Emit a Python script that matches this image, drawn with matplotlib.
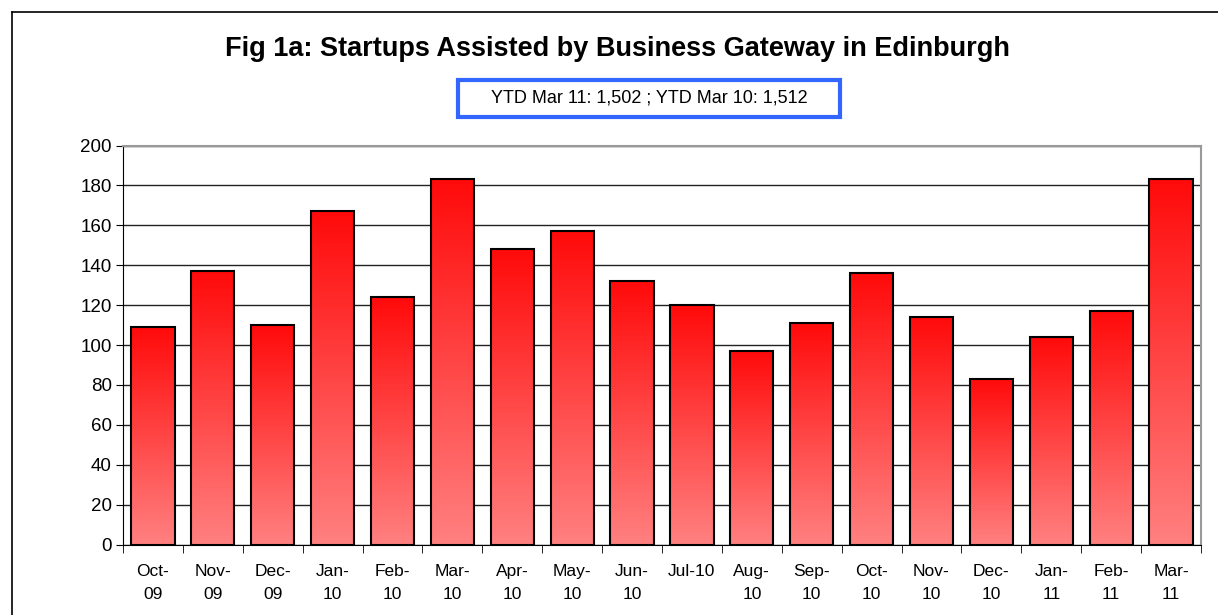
import matplotlib.pyplot as plt
import matplotlib.colors as mcolors
import numpy as np

plt.rcParams['font.family'] = ['Liberation Sans', 'DejaVu Sans']

months = ['Oct-\n09', 'Nov-\n09', 'Dec-\n09', 'Jan-\n10', 'Feb-\n10', 'Mar-\n10',
          'Apr-\n10', 'May-\n10', 'Jun-\n10', 'Jul-10\n', 'Aug-\n10', 'Sep-\n10',
          'Oct-\n10', 'Nov-\n10', 'Dec-\n10', 'Jan-\n11', 'Feb-\n11', 'Mar-\n11']
startups = [109, 137, 110, 167, 124, 183, 148, 157, 132, 120, 97, 111,
            136, 114, 83, 104, 117, 183]

title = 'Fig 1a: Startups Assisted by Business Gateway in Edinburgh'
note = 'YTD Mar 11: 1,502 ; YTD Mar 10: 1,512'

fig = plt.figure(figsize=(12.18, 6.15), dpi=100)
ax = fig.add_axes([123/1218, 1-544.5/615, (1201-123)/1218, (544.5-145.5)/615])

# vertical gradient red -> pink for each bar
cmap = mcolors.LinearSegmentedColormap.from_list('grad', ['#ff0a0a', '#ff8080'])
grad = np.linspace(0, 1, 256).reshape(-1, 1)

x = np.arange(len(startups))
bars = ax.bar(x, startups, width=0.72, facecolor='none', edgecolor='black',
              linewidth=1.5, zorder=3)
for b in bars:
    x0, w, h = b.get_x(), b.get_width(), b.get_height()
    im = ax.imshow(grad, cmap=cmap, aspect='auto', extent=[x0, x0 + w, 0, h],
                   origin='upper', zorder=2)
    im.set_clip_path(b)

ax.set_xlim(-0.5, len(startups) - 0.5)
ax.set_ylim(0, 200)
ax.set_yticks(range(0, 201, 20))
ax.yaxis.grid(True, color='#222222', linewidth=1)
ax.set_axisbelow(True)

ax.set_xticks(x)
ax.set_xticklabels(months, fontsize=12.5, linespacing=1.7)
ax.set_xticks(np.arange(-0.5, len(startups), 1), minor=True)
ax.tick_params(axis='x', which='major', length=0, pad=14)
ax.tick_params(axis='x', which='minor', length=6, color='black')
ax.tick_params(axis='y', length=5, labelsize=13.5, pad=3)

ax.spines['left'].set_color('black')
ax.spines['bottom'].set_color('black')
ax.spines['top'].set_color('#999999')
ax.spines['right'].set_color('#999999')
ax.spines['top'].set_linewidth(1.5)
ax.spines['right'].set_linewidth(1.5)

fig.text(617/1218, 1 - 49/615, title, ha='center', va='center', fontsize=19.5,
         fontweight='bold')

# note box
fig.add_artist(plt.Rectangle((458/1218, 1 - 117/615), 382/1218, 37/615,
                             transform=fig.transFigure, facecolor='white',
                             edgecolor='#3366ff', linewidth=3))
fig.text(649/1218, 1 - 98/615, note, ha='center', va='center', fontsize=13)

# chart frame
fig.add_artist(plt.Line2D([12/1218, 12/1218], [0, 1 - 12/615], color='black',
                          linewidth=1.2))
fig.add_artist(plt.Line2D([12/1218, 1], [1 - 12/615, 1 - 12/615], color='black',
                          linewidth=1.2))

fig.savefig('out.png', dpi=100)
